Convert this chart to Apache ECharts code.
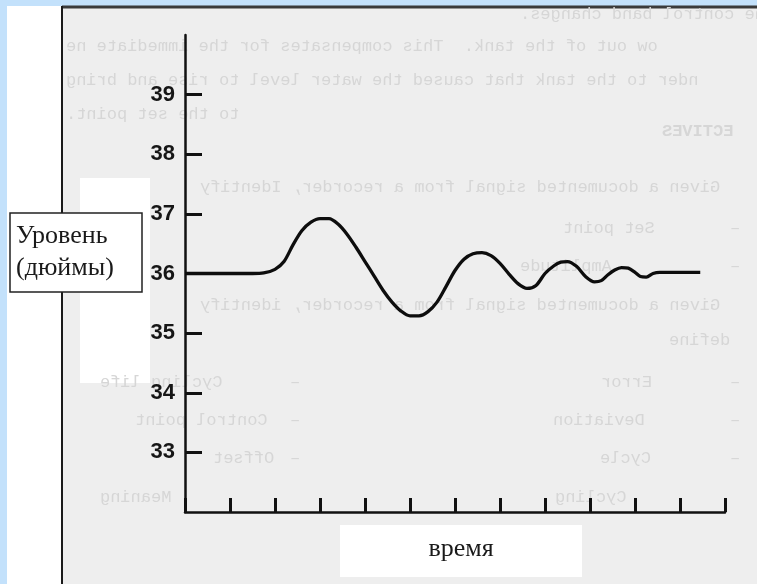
<!DOCTYPE html>
<html>
<head>
<meta charset="utf-8">
<script src="https://cdn.jsdelivr.net/npm/echarts@6/dist/echarts.min.js"></script>
<style>
html,body{margin:0;padding:0;background:#ffffff;}
#c{width:757px;height:584px;}
</style>
</head>
<body>
<div id="c"></div>
<script>
// ---- data ----
const timeValues  = [0, 1.5, 1.75, 2.0, 2.2, 2.4, 2.6, 2.8, 3.0, 3.2, 3.4, 3.6, 3.8, 4.0, 4.2, 4.4, 4.6, 4.8, 5.0, 5.2, 5.4, 5.6, 5.8, 6.0, 6.2, 6.4, 6.6, 6.8, 7.0, 7.2, 7.4, 7.6, 7.8, 8.0, 8.2, 8.35, 8.5, 8.7, 8.9, 9.1, 9.25, 9.4, 9.55, 9.7, 9.85, 10.0, 10.12, 10.25, 10.4, 10.55, 11.45];
const levelValues = [36.0, 36.0, 36.01, 36.07, 36.2, 36.48, 36.72, 36.86, 36.92, 36.92, 36.83, 36.66, 36.44, 36.2, 35.96, 35.72, 35.52, 35.37, 35.29, 35.29, 35.36, 35.52, 35.78, 36.05, 36.24, 36.33, 36.35, 36.3, 36.17, 35.99, 35.83, 35.75, 35.8, 36.0, 36.13, 36.19, 36.2, 36.12, 35.95, 35.86, 35.88, 35.98, 36.06, 36.1, 36.09, 36.02, 35.95, 35.94, 36.0, 36.02, 36.02];
const yTickValues = [33, 34, 35, 36, 37, 38, 39];
const yAxisTitle  = 'Уровень\n(дюймы)';
const xAxisTitle  = 'время';
// faint mirrored text of the scanned page behind the chart
const bgTexts = [
  'the control band changes.',
  'ow out of the tank.  This compensates for the immediate ne',
  'nder to the tank that caused the water level to rise and bring',
  'to the set point.',
  'ECTIVES',
  'Given a documented signal from a recorder, Identify',
  'Set point', 'Amplitude',
  'Given a documented signal from a recorder, identify',
  'define',
  'Error', 'Cycling life',
  'Deviation', 'Control point',
  'Cycle', 'Offset',
  'Cycling', 'Meaning'
];

const seriesData = timeValues.map((t, i) => [t, levelValues[i]]);

// layout of the faint text (real left x, y)
const bgPos = [
  [520, 14], [66, 46], [66, 80], [66, 114], [662, 132],
  [200, 187], [563, 228], [520, 266], [200, 305], [669, 340],
  [601, 382], [100, 382], [553, 420], [135, 420], [600, 458], [213, 458],
  [555, 497], [100, 497]
];
const W = 757;
const faint = '#d6d6d6';
const mirrorChildren = bgTexts.map((s, i) => ({
  type: 'text',
  x: W - bgPos[i][0],
  y: bgPos[i][1],
  style: {
    text: s,
    fill: faint,
    font: (s === 'ECTIVES' ? 'bold ' : '') + '17px "Liberation Mono", monospace',
    align: 'right',
    verticalAlign: 'middle'
  }
}));
[[730, 228], [730, 266], [730, 382], [290, 382], [730, 420], [290, 420], [730, 458], [290, 458]].forEach(p => {
  mirrorChildren.push({
    type: 'text', x: W - p[0], y: p[1],
    style: { text: '–', fill: faint, font: '17px "Liberation Mono", monospace', align: 'right', verticalAlign: 'middle' }
  });
});

const chart = echarts.init(document.getElementById('c'), null, { renderer: 'canvas' });
chart.setOption({
  animation: false,
  backgroundColor: '#ffffff',
  grid: { left: 185, right: 32, top: 35, bottom: 72, containLabel: false },
  xAxis: {
    type: 'value', min: 0, max: 12, interval: 1,
    axisLine: { show: true, lineStyle: { color: '#111', width: 2.5 } },
    axisTick: { show: true, inside: true, length: 14, lineStyle: { color: '#111', width: 3 } },
    axisLabel: { show: false },
    splitLine: { show: false }
  },
  yAxis: {
    type: 'value', min: 32, max: 40, interval: 1,
    axisLine: { show: true, lineStyle: { color: '#111', width: 2.5 } },
    axisTick: { show: true, inside: true, length: 17, customValues: yTickValues, lineStyle: { color: '#111', width: 3 } },
    axisLabel: {
      show: true, customValues: yTickValues, margin: 10,
      color: '#161616', fontFamily: '"Liberation Sans", Arial, sans-serif', fontWeight: 'bold', fontSize: 22
    },
    splitLine: { show: false }
  },
  graphic: [
    // blue page border
    { type: 'rect', z: -20, shape: { x: 0, y: 0, width: 757, height: 6 }, style: { fill: '#c3e1fb' } },
    { type: 'rect', z: -20, shape: { x: 0, y: 0, width: 7, height: 584 }, style: { fill: '#c3e1fb' } },
    // scanned page area
    { type: 'rect', z: -19, shape: { x: 62, y: 7, width: 700, height: 580 }, style: { fill: '#eeeeee' } },
    { type: 'group', z: -18, x: W, y: 0, scaleX: -1, children: mirrorChildren },
    { type: 'line', z: -17, shape: { x1: 62, y1: 7, x2: 757, y2: 7 }, style: { stroke: '#3a3a3a', lineWidth: 3 } },
    { type: 'line', z: -17, shape: { x1: 62, y1: 6, x2: 62, y2: 584 }, style: { stroke: '#1a1a1a', lineWidth: 2 } },
    // white patches
    { type: 'rect', z: -16, shape: { x: 80, y: 178, width: 70, height: 205 }, style: { fill: '#ffffff' } },
    { type: 'rect', z: -16, shape: { x: 340, y: 525, width: 242, height: 52 }, style: { fill: '#ffffff' } },
    // axis titles
    { type: 'rect', z: 5, shape: { x: 10, y: 213, width: 132, height: 79 }, style: { fill: '#ffffff', stroke: '#222', lineWidth: 1.5 } },
    { type: 'text', z: 6, x: 16, y: 252, style: { text: yAxisTitle, fill: '#1a1a1a', font: '26px "Liberation Serif", "Times New Roman", serif', lineHeight: 32, align: 'left', verticalAlign: 'middle' } },
    { type: 'text', z: 6, x: 461, y: 549, style: { text: xAxisTitle, fill: '#1a1a1a', font: '26px "Liberation Serif", "Times New Roman", serif', align: 'center', verticalAlign: 'middle' } }
  ],
  series: [{
    type: 'line',
    data: seriesData,
    smooth: 0.3,
    showSymbol: false,
    lineStyle: { color: '#0d0d0d', width: 3.3 },
    z: 3
  }]
});
</script>
</body>
</html>
